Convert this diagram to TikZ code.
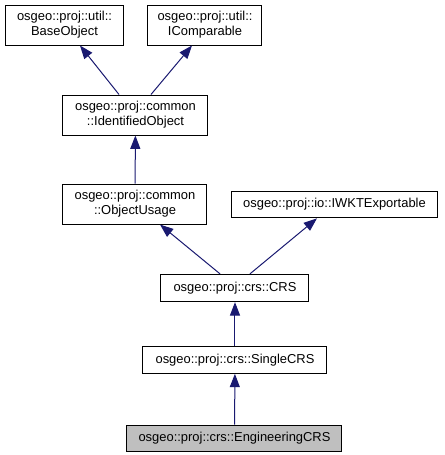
\documentclass[tikz,border=0pt]{standalone}
\usepackage{fontspec}
\setmainfont{Liberation Sans}
\usetikzlibrary{arrows.meta}

\definecolor{edgeblue}{RGB}{25,25,112}

\begin{document}
\begin{tikzpicture}[x=0.75pt, y=-0.75pt,
    cls/.style={draw=black, line width=0.75pt, inner sep=0pt, align=center,
        font=\fontsize{9.7pt}{11.25pt}\selectfont},
    this/.style={cls, fill=black!25},
    inherit/.style={draw=edgeblue, line width=0.75pt,
        -{Triangle[length=10pt, width=7.5pt, fill=edgeblue]}}]
    \useasboundingbox (0,0) rectangle (445,455);

    \node [cls, minimum width=88.5pt, minimum height=30pt] (base) at (64.5,25) {osgeo::proj::util::\\BaseObject};
    \node [cls, minimum width=85.5pt, minimum height=30pt] (icomp) at (205,25) {osgeo::proj::util::\\IComparable};
    \node [cls, minimum width=108.75pt, minimum height=30pt] (ident) at (135.5,115) {osgeo::proj::common\\::IdentifiedObject};
    \node [cls, minimum width=108pt, minimum height=30pt] (usage) at (135,204) {osgeo::proj::common\\::ObjectUsage};
    \node [cls, minimum width=155pt, minimum height=20pt] (iwkt) at (334.5,204.5) {osgeo::proj::io::IWKTExportable};
    \node [cls, minimum width=111pt, minimum height=20.5pt] (crs) at (235,288) {osgeo::proj::crs::CRS};
    \node [cls, minimum width=138pt, minimum height=20pt] (single) at (235,360) {osgeo::proj::crs::SingleCRS};
    \node [this, minimum width=161.25pt, minimum height=20pt] (eng) at (234.5,438.5) {osgeo::proj::crs::EngineeringCRS};

    % arrows point from the derived class up to its base
    \draw [inherit] (ident.north -| 119,0) -- (base.south -| 80,0);
    \draw [inherit] (ident.north -| 151,0) -- (icomp.south -| 192,0);
    \draw [inherit] (usage) -- (ident);
    \draw [inherit] (crs.north -| 220,0) -- (usage.south -| 160,0);
    \draw [inherit] (crs.north -| 250,0) -- (iwkt.south -| 317,0);
    \draw [inherit] (single) -- (crs);
    \draw [inherit] (eng) -- (single);
\end{tikzpicture}
\end{document}
